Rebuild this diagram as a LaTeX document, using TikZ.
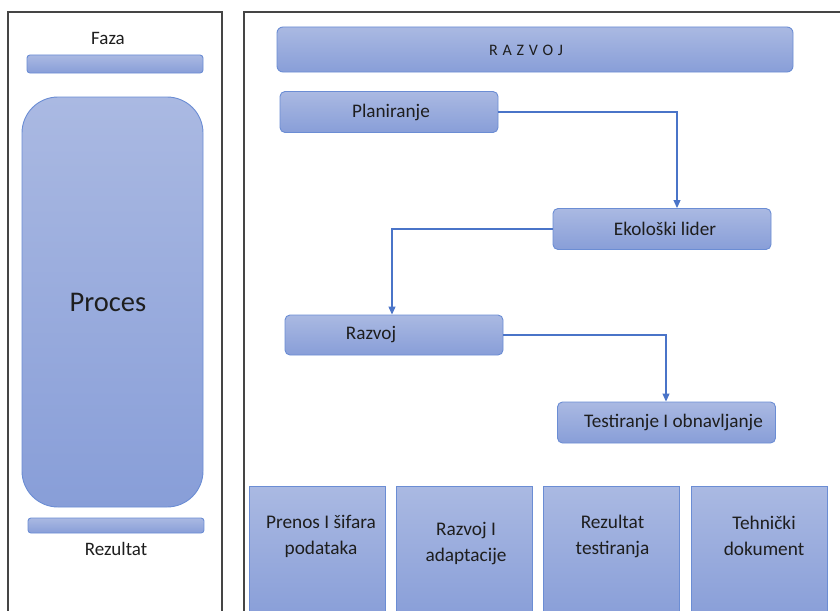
\documentclass[tikz,border=0pt]{standalone}
\usepackage{fontspec}
\setmainfont{Carlito}
\usetikzlibrary{arrows.meta}
\definecolor{boxtop}{HTML}{AAB9E2}
\definecolor{boxbot}{HTML}{889ED8}
\definecolor{boxedge}{HTML}{6B8DD4}
\definecolor{flow}{HTML}{4A74C8}
\definecolor{framegray}{HTML}{454545}
\definecolor{ink}{HTML}{1E1E1E}
\begin{document}
\begin{tikzpicture}[x=1pt,y=-1pt, every node/.style={text=ink},
  shaded/.style={draw=boxedge, line width=0.9pt, top color=boxtop, bottom color=boxbot},
  stepbox/.style={shaded, rounded corners=5pt, minimum width=218pt, minimum height=41pt,
    inner sep=0pt, font=\fontsize{19.2}{22}\selectfont},
  bar/.style={shaded, rounded corners=3pt, inner sep=0pt},
  outbox/.style={shaded, minimum width=136pt, minimum height=134pt, inner sep=0pt},
  outtext/.style={align=center, font=\fontsize{19.3}{26}\selectfont},
  caption/.style={font=\fontsize{19}{22}\selectfont},
  frameline/.style={draw=framegray, line width=1.2pt},
  flowline/.style={draw=flow, line width=1.1pt, -{Triangle[length=8pt,width=7pt]}}
]
\useasboundingbox (0,0) rectangle (840,610);
\clip (0,0) rectangle (840,610);
\fill[white] (0,0) rectangle (840,610);

% the two frames, open at the bottom
\draw[frameline] (8,630) -- (8,12) -- (222,12) -- (222,630);
\draw[frameline] (244,630) -- (244,12) -- (860,12);

% legend column
\node[caption] (faza) at (108,38) {Faza};
\node[bar, minimum width=176pt, minimum height=18pt] (fazabar) at (115,64) {};
\node[shaded, rounded corners=36pt, minimum width=181pt, minimum height=410pt,
      inner sep=0pt, font=\fontsize{28.5}{32}\selectfont] (proces) at (112.5,302) {\hspace*{-9pt}Proces};
\node[bar, minimum width=176pt, minimum height=15pt] (rezbar) at (116,525.5) {};
\node[caption] (rezultat) at (116,549) {Rezultat};

% phase header
\node[bar, rounded corners=6pt, minimum width=516pt, minimum height=45pt] (phase) at (535,49.5) {};
\node[font=\fontsize{16}{18}\selectfont\addfontfeature{LetterSpace=30}] (phasetext) at (526,50) {RAZVOJ};

% process steps
\node[stepbox] (plan) at (389,112) {\hspace*{4pt}Planiranje};
\node[stepbox] (eko) at (662,229) {\hspace*{6pt}Ekološki lider};
\node[stepbox, minimum height=40pt] (razvoj) at (394,335) {\hspace*{-46pt}Razvoj};
\node[stepbox] (test) at (666.5,422.5) {\hspace*{14pt}Testiranje I obnavljanje};

\draw[flowline] (plan.east) -| ([xshift=15pt]eko.north);
\draw[flowline] (eko.west) -| ([xshift=-2pt]razvoj.north);
\draw[flowline] (razvoj.east) -| ([xshift=-0.5pt]test.north);

% results
\node[outbox] (out1) at (317,553) {};
\node[outbox] (out2) at (464,553) {};
\node[outbox] (out3) at (611.5,553) {};
\node[outbox] (out4) at (759.5,553) {};
\node[outtext] (t1) at (321,536.5) {Prenos I šifara\\podataka};
\node[outtext] (t2) at (466,543.5) {Razvoj I\\adaptacije};
\node[outtext] (t3) at (612.5,536) {Rezultat\\testiranja};
\node[outtext] (t4) at (764,535.5) {Tehnički\\dokument};
\end{tikzpicture}
\end{document}
